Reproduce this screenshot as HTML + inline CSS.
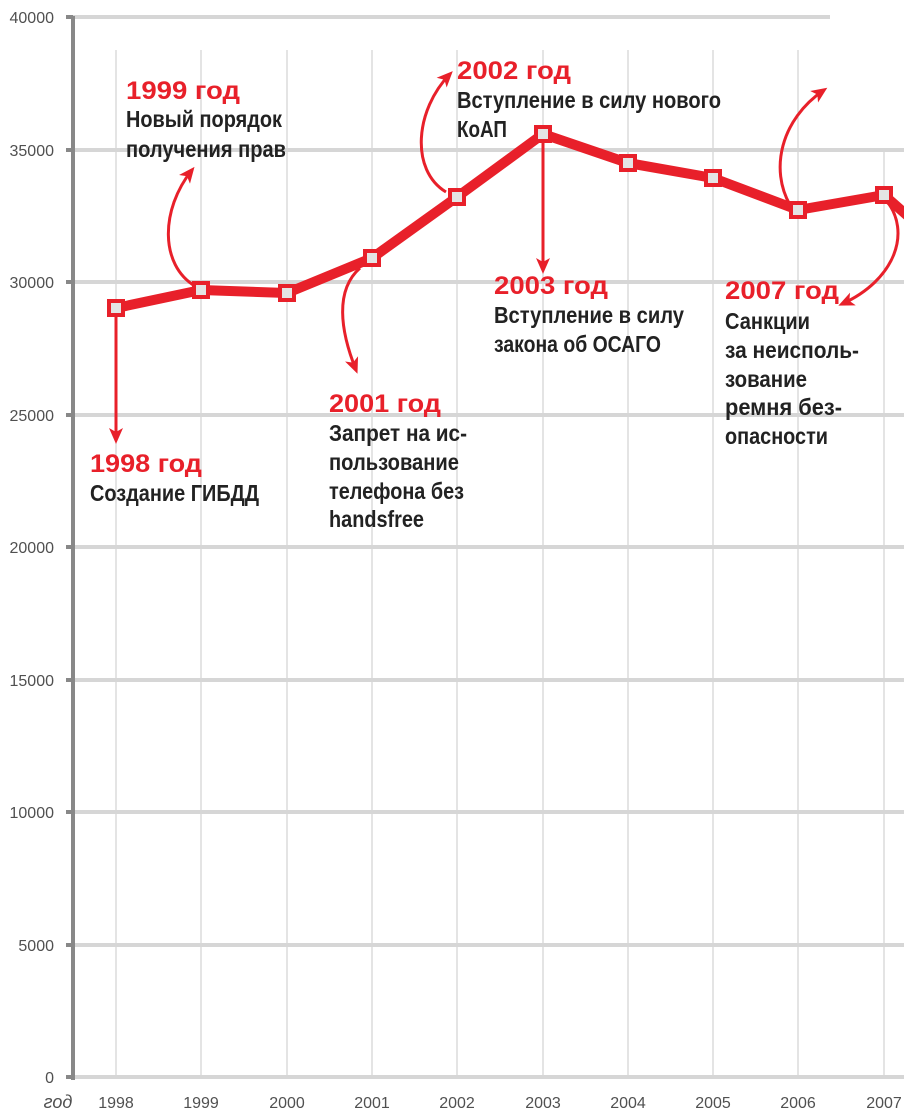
<!DOCTYPE html>
<html><head><meta charset="utf-8"><style>
html,body{margin:0;padding:0;background:#fff}
svg{display:block}
.t{font-family:"Liberation Sans Narrow","Liberation Sans","DejaVu Sans",sans-serif;font-size:23px;fill:#222;font-weight:bold}
.r{font-family:"Liberation Sans Narrow","Liberation Sans","DejaVu Sans",sans-serif;font-size:25px;fill:#e8202a;font-weight:bold}
.ax{font-family:"Liberation Sans","DejaVu Sans",sans-serif;font-size:16px;fill:#505050}
</style></head><body>
<svg width="904" height="1120" viewBox="0 0 904 1120" xmlns="http://www.w3.org/2000/svg">
<defs>
<marker id="ah2" markerWidth="16" markerHeight="16" refX="12" refY="8" orient="auto" markerUnits="userSpaceOnUse" viewBox="0 0 16 16"><path d="M0,1 L16,8 L0,15 L4,8 Z" fill="#e8202a"/></marker></defs>
<g stroke="#c8c8c8" stroke-width="1">
<line x1="116" y1="50" x2="116" y2="1077"/><line x1="201" y1="50" x2="201" y2="1077"/><line x1="287" y1="50" x2="287" y2="1077"/><line x1="372" y1="50" x2="372" y2="1077"/><line x1="457" y1="50" x2="457" y2="1077"/><line x1="543" y1="50" x2="543" y2="1077"/><line x1="628" y1="50" x2="628" y2="1077"/><line x1="713" y1="50" x2="713" y2="1077"/><line x1="798" y1="50" x2="798" y2="1077"/><line x1="884" y1="148" x2="884" y2="1077"/>
</g>
<g stroke="#d6d6d6" stroke-width="4">
<line x1="73" y1="17" x2="830" y2="17"/><line x1="73" y1="150" x2="904" y2="150"/><line x1="73" y1="282" x2="904" y2="282"/><line x1="73" y1="415" x2="904" y2="415"/><line x1="73" y1="547" x2="904" y2="547"/><line x1="73" y1="680" x2="904" y2="680"/><line x1="73" y1="812" x2="904" y2="812"/><line x1="73" y1="945" x2="904" y2="945"/><line x1="73" y1="1077" x2="904" y2="1077"/>
</g>
<line x1="73" y1="16" x2="73" y2="1080" stroke="#888" stroke-width="4"/>
<g stroke="#888" stroke-width="4"><line x1="66" y1="17" x2="73" y2="17"/><line x1="66" y1="150" x2="73" y2="150"/><line x1="66" y1="282" x2="73" y2="282"/><line x1="66" y1="415" x2="73" y2="415"/><line x1="66" y1="547" x2="73" y2="547"/><line x1="66" y1="680" x2="73" y2="680"/><line x1="66" y1="812" x2="73" y2="812"/><line x1="66" y1="945" x2="73" y2="945"/><line x1="66" y1="1077" x2="73" y2="1077"/></g>
<g class="ax" text-anchor="end">
<text x="54" y="23">40000</text><text x="54" y="156">35000</text><text x="54" y="288">30000</text><text x="54" y="421">25000</text><text x="54" y="553">20000</text><text x="54" y="686">15000</text><text x="54" y="818">10000</text><text x="54" y="951">5000</text><text x="54" y="1083">0</text>
</g>
<g class="ax" text-anchor="middle">
<text x="58" y="1108" font-style="italic" font-size="18">год</text>
<text x="116" y="1108">1998</text><text x="201" y="1108">1999</text><text x="287" y="1108">2000</text><text x="372" y="1108">2001</text><text x="457" y="1108">2002</text><text x="543" y="1108">2003</text><text x="628" y="1108">2004</text><text x="713" y="1108">2005</text><text x="798" y="1108">2006</text><text x="884" y="1108">2007</text>
</g>
<g fill="none" stroke="#e8202a" stroke-width="3">
<line x1="116" y1="312" x2="116" y2="440" marker-end="url(#ah2)"/>
<path d="M195,286 C160,265 160,210 192,170" marker-end="url(#ah2)"/>
<path d="M360,268 C335,290 340,330 356,370" marker-end="url(#ah2)"/>
<path d="M446,192 C410,170 415,110 450,74" marker-end="url(#ah2)"/>
<line x1="543" y1="138" x2="543" y2="270" marker-end="url(#ah2)"/>
<path d="M790,205 C770,170 780,120 824,90" marker-end="url(#ah2)"/>
<path d="M886,200 C912,232 895,280 842,304" marker-end="url(#ah2)"/>
</g>
<polyline fill="none" stroke="#e8202a" stroke-width="10" stroke-linejoin="round" points="116,308 201,290 287,293 372,258 457,197 543,134 628,163 713,178 798,210 884,195 910,218"/>
<g fill="#e4e4e4" stroke="#e8202a" stroke-width="4">
<rect x="109" y="301" width="14" height="14"/><rect x="194" y="283" width="14" height="14"/><rect x="280" y="286" width="14" height="14"/><rect x="365" y="251" width="14" height="14"/><rect x="450" y="190" width="14" height="14"/><rect x="536" y="127" width="14" height="14"/><rect x="621" y="156" width="14" height="14"/><rect x="706" y="171" width="14" height="14"/><rect x="791" y="203" width="14" height="14"/><rect x="877" y="188" width="14" height="14"/>
</g>
<text class="r" x="126" y="99" textLength="114" lengthAdjust="spacingAndGlyphs">1999 год</text>
<text class="t" x="126" y="127" textLength="156" lengthAdjust="spacingAndGlyphs">Новый порядок</text>
<text class="t" x="126" y="157" textLength="160" lengthAdjust="spacingAndGlyphs">получения прав</text>
<text class="r" x="457" y="79" textLength="114" lengthAdjust="spacingAndGlyphs">2002 год</text>
<text class="t" x="457" y="108" textLength="264" lengthAdjust="spacingAndGlyphs">Вступление в силу нового</text>
<text class="t" x="457" y="137" textLength="50" lengthAdjust="spacingAndGlyphs">КоАП</text>
<text class="r" x="494" y="294" textLength="114" lengthAdjust="spacingAndGlyphs">2003 год</text>
<text class="t" x="494" y="323" textLength="190" lengthAdjust="spacingAndGlyphs">Вступление в силу</text>
<text class="t" x="494" y="352" textLength="167" lengthAdjust="spacingAndGlyphs">закона об ОСАГО</text>
<text class="r" x="725" y="299" textLength="114" lengthAdjust="spacingAndGlyphs">2007 год</text>
<text class="t" x="725" y="329" textLength="85" lengthAdjust="spacingAndGlyphs">Санкции</text>
<text class="t" x="725" y="358" textLength="134" lengthAdjust="spacingAndGlyphs">за неисполь-</text>
<text class="t" x="725" y="387" textLength="82" lengthAdjust="spacingAndGlyphs">зование</text>
<text class="t" x="725" y="415" textLength="117" lengthAdjust="spacingAndGlyphs">ремня без-</text>
<text class="t" x="725" y="444" textLength="103" lengthAdjust="spacingAndGlyphs">опасности</text>
<text class="r" x="329" y="412" textLength="112" lengthAdjust="spacingAndGlyphs">2001 год</text>
<text class="t" x="329" y="441" textLength="138" lengthAdjust="spacingAndGlyphs">Запрет на ис-</text>
<text class="t" x="329" y="470" textLength="130" lengthAdjust="spacingAndGlyphs">пользование</text>
<text class="t" x="329" y="499" textLength="135" lengthAdjust="spacingAndGlyphs">телефона без</text>
<text class="t" x="329" y="527" textLength="95" lengthAdjust="spacingAndGlyphs">handsfree</text>
<text class="r" x="90" y="472" textLength="112" lengthAdjust="spacingAndGlyphs">1998 год</text>
<text class="t" x="90" y="501" textLength="169" lengthAdjust="spacingAndGlyphs">Создание ГИБДД</text>
</svg>
</body></html>
